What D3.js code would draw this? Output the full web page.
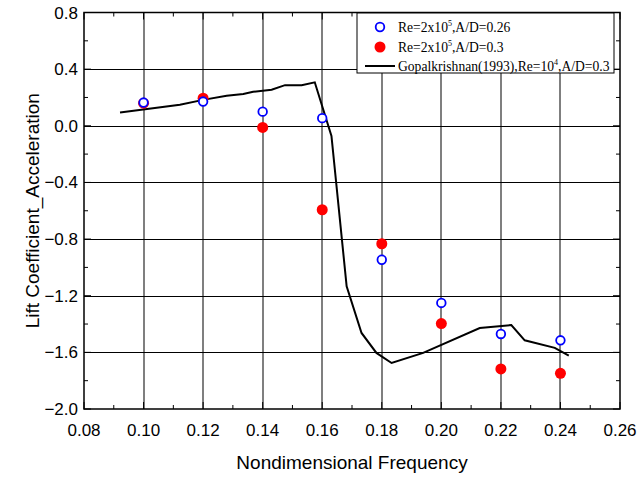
<!DOCTYPE html>
<html>
<head>
<meta charset="utf-8">
<script src="https://cdn.jsdelivr.net/npm/d3@7"></script>
<style>
  body { margin: 0; background: #fff; }
  text { font-family: "Liberation Sans", Arial, sans-serif; }
</style>
</head>
<body>
<svg id="drawing_region"></svg>
<script>
// measured points, A/D = 0.26 and A/D = 0.3
const freq = [0.10, 0.12, 0.14, 0.16, 0.18, 0.20, 0.22, 0.24];
const clA026 = [0.164, 0.171, 0.10, 0.054, -0.946, -1.251, -1.47, -1.515];
const clA030 = [0.16, 0.195, -0.012, -0.593, -0.833, -1.397, -1.717, -1.748];

// Gopalkrishnan (1993) curve
const gopX = [0.0921, 0.1122, 0.1200, 0.1279, 0.1335, 0.1368, 0.1430, 0.1475, 0.1531, 0.1575,
  0.1631, 0.1682, 0.1732, 0.1782, 0.1833, 0.1939, 0.2129, 0.2235, 0.2280, 0.2381, 0.2428];
const gopY = [0.094, 0.148, 0.183, 0.212, 0.224, 0.240, 0.254, 0.287, 0.287, 0.307,
  -0.071, -1.134, -1.463, -1.604, -1.675, -1.604, -1.428, -1.407, -1.515, -1.568, -1.623];

const xTicks = [0.08, 0.10, 0.12, 0.14, 0.16, 0.18, 0.20, 0.22, 0.24, 0.26];
const yTicks = [0.8, 0.4, 0.0, -0.4, -0.8, -1.2, -1.6, -2.0];

const width = 637, height = 477;
const margin = { left: 84, right: 17, top: 12.5, bottom: 68 };

const svg = d3.select('#drawing_region')
  .attr('width', width)
  .attr('height', height);

const x = d3.scaleLinear().domain([0.08, 0.26]).range([margin.left, width - margin.right]);
const y = d3.scaleLinear().domain([-2.0, 0.8]).range([height - margin.bottom, margin.top]);

const x0 = x.range()[0], x1 = x.range()[1];
const y0 = y.range()[0], y1 = y.range()[1];

// grid
svg.append('g')
  .selectAll('line')
  .data(xTicks.slice(1, -1))
  .join('line')
  .attr('x1', d => Math.round(x(d))).attr('x2', d => Math.round(x(d)))
  .attr('y1', y1).attr('y2', y0)
  .attr('stroke', '#000')
  .attr('stroke-width', 2)
  .attr('stroke-dasharray', '1,1');

svg.append('g')
  .selectAll('line')
  .data(yTicks.slice(1, -1))
  .join('line')
  .attr('x1', x0).attr('x2', x1)
  .attr('y1', d => Math.round(y(d)) + 0.5).attr('y2', d => Math.round(y(d)) + 0.5)
  .attr('stroke', '#000')
  .attr('stroke-width', 1);

// inward ticks, majors and minors
const xMinor = d3.range(0.09, 0.26, 0.02);
const yMinor = d3.range(-1.8, 0.8, 0.4);
const tickG = svg.append('g').attr('stroke', '#000').attr('stroke-width', 1);
xTicks.forEach(d => {
  tickG.append('line').attr('x1', x(d)).attr('x2', x(d)).attr('y1', y0).attr('y2', y0 - 7);
  tickG.append('line').attr('x1', x(d)).attr('x2', x(d)).attr('y1', y1).attr('y2', y1 + 7);
});
xMinor.forEach(d => {
  tickG.append('line').attr('x1', x(d)).attr('x2', x(d)).attr('y1', y0).attr('y2', y0 - 4);
  tickG.append('line').attr('x1', x(d)).attr('x2', x(d)).attr('y1', y1).attr('y2', y1 + 4);
});
yTicks.forEach(d => {
  tickG.append('line').attr('x1', x0).attr('x2', x0 + 7).attr('y1', y(d)).attr('y2', y(d));
  tickG.append('line').attr('x1', x1).attr('x2', x1 - 7).attr('y1', y(d)).attr('y2', y(d));
});
yMinor.forEach(d => {
  tickG.append('line').attr('x1', x0).attr('x2', x0 + 4).attr('y1', y(d)).attr('y2', y(d));
  tickG.append('line').attr('x1', x1).attr('x2', x1 - 4).attr('y1', y(d)).attr('y2', y(d));
});

// frame
svg.append('rect')
  .attr('x', x0).attr('y', y1)
  .attr('width', x1 - x0).attr('height', y0 - y1)
  .attr('fill', 'none')
  .attr('stroke', '#000')
  .attr('stroke-width', 1.5);

// tick labels
svg.append('g')
  .selectAll('text')
  .data(xTicks)
  .join('text')
  .attr('x', d => x(d))
  .attr('y', y0 + 27)
  .attr('text-anchor', 'middle')
  .attr('font-size', '17px')
  .text(d => d3.format('.2f')(d));

svg.append('g')
  .selectAll('text')
  .data(yTicks)
  .join('text')
  .attr('x', x0 - 6)
  .attr('y', d => y(d) + 6)
  .attr('text-anchor', 'end')
  .attr('font-size', '17px')
  .text(d => d3.format('.1f')(d));

// axis titles
svg.append('text')
  .attr('x', (x0 + x1) / 2)
  .attr('y', 469)
  .attr('text-anchor', 'middle')
  .attr('font-size', '19px')
  .text('Nondimensional Frequency');

svg.append('text')
  .attr('transform', `translate(39, ${(y0 + y1) / 2}) rotate(-90)`)
  .attr('text-anchor', 'middle')
  .attr('font-size', '19px')
  .text('Lift Coefficient_Acceleration');

// Gopalkrishnan line
const line = d3.line()
  .x(d => x(d[0]))
  .y(d => y(d[1]));

svg.append('path')
  .datum(d3.zip(gopX, gopY))
  .attr('d', line)
  .attr('fill', 'none')
  .attr('stroke', '#000')
  .attr('stroke-width', 2);

// red filled circles
svg.append('g')
  .selectAll('circle')
  .data(d3.zip(freq, clA030))
  .join('circle')
  .attr('cx', d => x(d[0]))
  .attr('cy', d => y(d[1]))
  .attr('r', 5.5)
  .attr('fill', '#ff0000');

// blue open circles
svg.append('g')
  .selectAll('circle')
  .data(d3.zip(freq, clA026))
  .join('circle')
  .attr('cx', d => x(d[0]))
  .attr('cy', d => y(d[1]))
  .attr('r', 4.3)
  .attr('fill', '#fff')
  .attr('stroke', '#0000ff')
  .attr('stroke-width', 1.8);

// legend
const lg = svg.append('g').attr('transform', 'translate(357, 13)');
lg.append('rect')
  .attr('width', 257).attr('height', 60)
  .attr('fill', '#fff')
  .attr('stroke', '#000')
  .attr('stroke-width', 1);

const legendFont = '"Liberation Serif", "Times New Roman", serif';
const addLabel = (ty, base, sup, rest) => {
  const t = lg.append('text')
    .attr('x', 41).attr('y', ty)
    .style('font-family', legendFont)
    .attr('font-size', '13.6px');
  t.append('tspan').text(base);
  t.append('tspan').attr('dy', -6).attr('font-size', '8px').text(sup);
  t.append('tspan').attr('dy', 6).text(rest);
};

lg.append('circle').attr('cx', 23).attr('cy', 14).attr('r', 4.3)
  .attr('fill', '#fff').attr('stroke', '#0000ff').attr('stroke-width', 1.8);
addLabel(19, 'Re=2x10', '5', ',A/D=0.26');

lg.append('circle').attr('cx', 23).attr('cy', 34).attr('r', 5.5)
  .attr('fill', '#ff0000');
addLabel(39, 'Re=2x10', '5', ',A/D=0.3');

lg.append('line').attr('x1', 8).attr('x2', 38).attr('y1', 53).attr('y2', 53)
  .attr('stroke', '#000').attr('stroke-width', 2);
addLabel(58, 'Gopalkrishnan(1993),Re=10', '4', ',A/D=0.3');
</script>
</body>
</html>
